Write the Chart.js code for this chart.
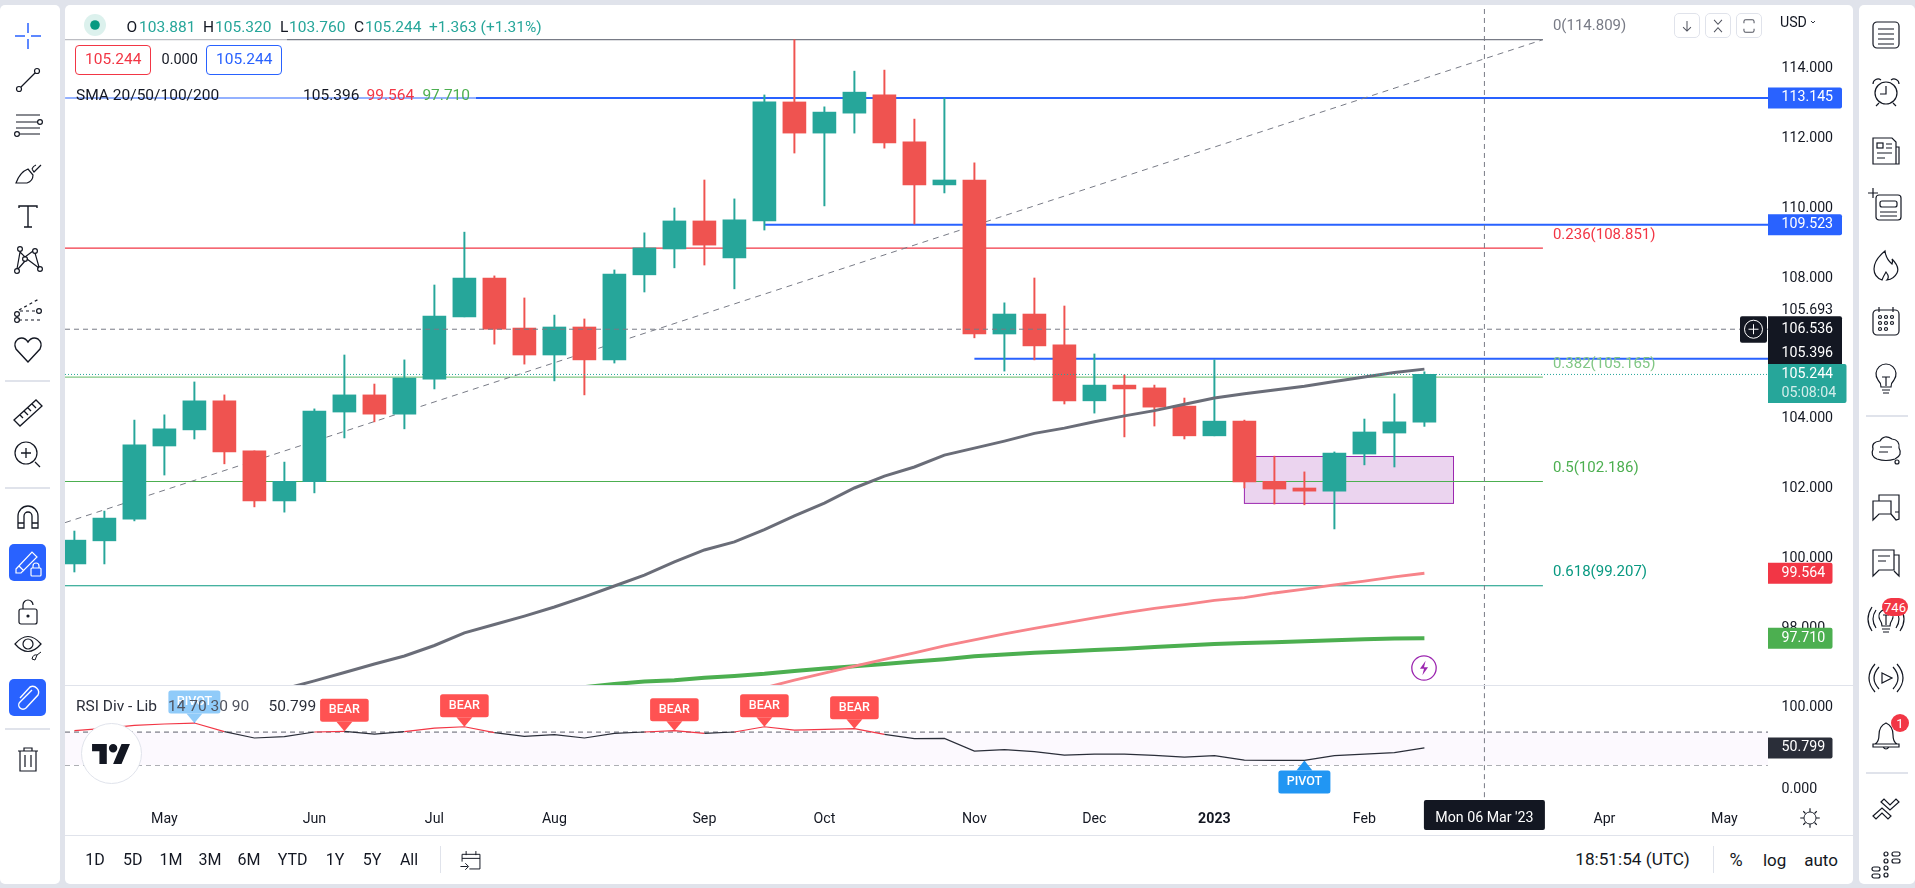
<!DOCTYPE html>
<html>
<head>
<meta charset="utf-8">
<title>DXY daily</title>
<script src="https://cdn.jsdelivr.net/npm/chart.js@4"></script>
<style>
  html, body { margin: 0; padding: 0; background: #E0E3EB; width: 1915px; height: 888px; overflow: hidden; }
  body { position: relative; font-family: Roboto, sans-serif; color: #131722; }
  .panel { position: absolute; background: #fff; border-radius: 5px; }
  .t { position: absolute; white-space: nowrap; font-size: 15.5px; line-height: 1; transform: translateY(-50%); }
  .c { transform: translate(-50%, -50%); }
  .rule { position: absolute; background: #E0E3EB; }
  .veil { position: absolute; background: rgba(255,255,255,0.5); }
  .box { position: absolute; box-sizing: border-box; border-radius: 4px; }
  svg.ic { position: absolute; fill: none; stroke: #131722; stroke-width: 1.2; overflow: visible; }
  canvas { position: absolute; display: block; }
</style>
</head>
<body>
<div class="panel" style="left:0;top:5px;width:60px;height:879px"></div>
<div class="panel" style="left:65px;top:5px;width:1788px;height:879px"></div>
<div class="panel" style="left:1859px;top:5px;width:56px;height:879px"></div>
<canvas id="price-chart" width="1788" height="680" style="left:65px;top:5px"></canvas>
<canvas id="rsi-chart" width="1788" height="150" style="left:65px;top:685px"></canvas>
<div id="overlay"></div>

<script>
// Candles, one per week
const opens = [99.83,100.49,101.11,103.20,103.66,104.49,103.06,101.63,102.18,104.17,104.66,104.11,105.11,106.89,108.00,106.57,105.80,106.60,105.66,108.09,108.83,109.63,108.57,109.63,113.03,112.14,112.71,113.23,111.89,110.66,110.80,106.40,106.97,106.09,104.49,104.94,104.86,104.34,103.49,103.91,102.19,102.00,101.91,102.97,103.57,103.881];
const highs = [100.77,101.34,103.94,104.09,105.03,104.66,103.06,102.74,104.26,105.80,104.97,105.66,107.80,109.31,108.06,107.43,106.94,106.83,108.23,109.29,110.00,110.80,110.26,113.23,114.81,112.89,113.91,113.94,112.54,113.14,111.29,107.29,108.00,107.20,105.83,105.23,104.94,104.57,105.66,103.94,102.91,102.46,103.03,103.97,104.69,105.320];
const lows = [99.60,99.83,101.06,102.37,103.40,102.69,101.46,101.31,101.86,103.43,103.89,103.69,104.83,106.89,106.11,105.54,105.06,104.66,105.57,107.60,108.29,108.37,107.69,109.37,111.57,110.06,112.14,111.71,109.54,110.43,106.29,105.34,105.66,104.40,104.14,103.46,103.77,103.40,103.49,102.00,101.54,101.52,100.83,102.66,102.60,103.760];
const closes = [100.51,101.14,103.23,103.69,104.49,103.03,101.63,102.19,104.20,104.66,104.11,105.14,106.91,108.00,106.54,105.80,106.60,105.66,108.11,108.86,109.63,108.94,109.66,113.03,112.14,112.74,113.31,111.86,110.66,110.80,106.40,106.97,106.06,104.49,104.94,104.83,104.31,103.49,103.91,102.17,101.97,101.91,103.00,103.60,103.89,105.244];

// Moving averages, each starts at the week it enters the pane
const smaDarkStart = 7;
const smaDark = [96.26,96.49,96.73,96.97,97.20,97.50,97.86,98.10,98.34,98.60,98.89,99.20,99.51,99.89,100.23,100.46,100.81,101.20,101.57,102.00,102.34,102.60,102.94,103.14,103.34,103.56,103.71,103.89,104.06,104.21,104.39,104.57,104.69,104.80,104.91,105.04,105.17,105.30,105.396];
const smaRedStart = 23;
const smaRed = [96.29,96.51,96.71,96.91,97.10,97.29,97.49,97.66,97.83,97.99,98.14,98.29,98.43,98.56,98.67,98.79,98.87,99.00,99.11,99.23,99.34,99.46,99.564];
const smaGreenStart = 17;
const smaGreen = [96.31,96.40,96.47,96.51,96.58,96.63,96.69,96.77,96.84,96.91,96.97,97.04,97.11,97.19,97.24,97.29,97.33,97.37,97.41,97.46,97.50,97.54,97.57,97.59,97.62,97.65,97.68,97.70,97.710];

// RSI pane
const rsiValues = [71.7,74.5,78.2,79.8,81.0,70.5,62.8,64.4,70.1,70.9,67.6,70.5,74.9,76.5,69.3,64.8,66.8,62.8,68.4,70.1,71.7,68.4,70.1,76.5,72.5,73.3,74.1,67.2,62.0,62.4,47.0,48.6,46.2,42.1,43.3,43.3,41.7,39.7,41.3,36.0,35.6,35.6,41.3,43.3,45.0,50.799];
const rsiBands = [70, 30];
const bearWeeks = [9, 13, 20, 23, 26];
const pivotHighWeeks = [4];
const pivotLowWeeks = [41];

// Drawings
const fibValues = [114.809, 108.851, 105.165, 102.186, 99.207];
const fibNames = ['0(114.809)', '0.236(108.851)', '0.382(105.165)', '0.5(102.186)', '0.618(99.207)'];
const fibColors = ['#787B86', '#F23645', '#81C784', '#4CAF50', '#089981'];
const fibEndWeek = 48.95;
const trendWeeks = [-0.31, 48.95];
const trendValues = [101.01, 114.809];
const blueValues = [113.145, 109.523, 105.693];
const blueStarts = [-0.31, 23, 30];
const boxWeeks = [39, 45.97];
const boxValues = [102.9, 101.56];
const crossWeek = 47;
const crossValue = 106.536;
const lastValue = 105.244;

// Axes
const priceTicks = [114, 112, 110, 108, 106, 104, 102, 100, 98];
const rsiTicks = [100, 0];
const timeWeeks = [3, 8, 12, 16, 21, 25, 30, 34, 38, 43, 51, 55];
const timeNames = ['May', 'Jun', 'Jul', 'Aug', 'Sep', 'Oct', 'Nov', 'Dec', '2023', 'Feb', 'Apr', 'May'];

const UP = '#26A69A', DOWN = '#EF5350', GRAY = '#787B86', BLUE = '#2962FF', DARK = '#131722';
const FONT = 'Roboto, sans-serif';
const weekMin = -0.313, weekMax = 56.453;
const axisFont = { family: FONT, size: 14.2 };

const xy = (xs, ys) => xs.map((x, i) => ({ x, y: ys[i] }));
const series = (start, vals) => vals.map((y, i) => ({ x: start + i, y }));
const flat = (from, to, y) => [{ x: from, y }, { x: to, y }];
const upright = (x, from, to) => [{ x, y: from }, { x, y: to }];

const lineSet = (data, color, width, order, extra) => Object.assign({
    type: 'line', data, borderColor: color, borderWidth: width,
    pointRadius: 0, tension: 0, fill: false, order
}, extra || {});

// the plot has to fill the canvas edge to edge, so drop the axis label padding
const fitY = s => { s.width = 85; s.paddingTop = 0; s.paddingBottom = 0; };
const fitX = s => { s.height = 35; s.paddingLeft = 0; s.paddingRight = 0; };

function rr(ctx, x0, y0, x1, y1, r, fill) {
    ctx.fillStyle = fill;
    ctx.beginPath();
    ctx.roundRect(x0, y0, x1 - x0, y1 - y0, r);
    ctx.fill();
}

function tagText(ctx, text, x, y, color) {
    ctx.fillStyle = color || '#fff';
    ctx.font = '14.2px ' + FONT;
    ctx.textAlign = 'left';
    ctx.textBaseline = 'middle';
    ctx.fillText(text, x, y);
}

const priceOverlay = {
    id: 'priceOverlay',
    beforeDatasetsDraw(chart) {
        const { ctx, scales: { x, y } } = chart;
        const bx0 = x.getPixelForValue(boxWeeks[0]), bx1 = x.getPixelForValue(boxWeeks[1]);
        const by0 = y.getPixelForValue(boxValues[0]), by1 = y.getPixelForValue(boxValues[1]);
        ctx.save();
        ctx.fillStyle = 'rgba(156,39,176,0.2)';
        ctx.strokeStyle = '#9C27B0';
        ctx.lineWidth = 1;
        ctx.fillRect(bx0, by0, bx1 - bx0, by1 - by0);
        ctx.strokeRect(bx0, by0, bx1 - bx0, by1 - by0);
        ctx.restore();
    },
    afterDraw(chart) {
        const { ctx, chartArea, scales: { x, y } } = chart;
        const right = chartArea.right, textX = right + 13.5, wide = right + 74;
        ctx.save();

        // fib names sit above the end of each level
        ctx.font = '15px ' + FONT;
        ctx.textAlign = 'left';
        ctx.textBaseline = 'middle';
        fibValues.forEach((v, i) => {
            ctx.fillStyle = fibColors[i];
            ctx.fillText(fibNames[i], x.getPixelForValue(fibEndWeek) + 10, y.getPixelForValue(v) - 13);
        });

        blueValues.slice(0, 2).forEach(v => {
            const p = y.getPixelForValue(v);
            rr(ctx, right, p - 10.5, wide, p + 10.5, [0, 2, 2, 0], BLUE);
            tagText(ctx, v.toFixed(3), textX, p);
        });

        // tags that collide get pushed apart, as in the original
        const bluePx = y.getPixelForValue(blueValues[2]);
        tagText(ctx, blueValues[2].toFixed(3), textX, bluePx - 48, DARK);

        const crossPx = y.getPixelForValue(crossValue);
        rr(ctx, right, crossPx - 13, wide, crossPx + 35, [0, 2, 0, 0], DARK);
        tagText(ctx, crossValue.toFixed(3), textX, crossPx);
        tagText(ctx, smaDark[smaDark.length - 1].toFixed(3), textX, crossPx + 24);

        rr(ctx, right - 28, crossPx - 13, right - 1, crossPx + 13.5, 2, DARK);
        ctx.strokeStyle = '#fff';
        ctx.lineWidth = 1;
        ctx.beginPath();
        ctx.arc(right - 14.5, crossPx, 9, 0, Math.PI * 2);
        ctx.moveTo(right - 19.5, crossPx);
        ctx.lineTo(right - 9.5, crossPx);
        ctx.moveTo(right - 14.5, crossPx - 5);
        ctx.lineTo(right - 14.5, crossPx + 5);
        ctx.stroke();

        const lastPx = y.getPixelForValue(lastValue);
        rr(ctx, right, lastPx - 10.5, right + 78.5, lastPx + 28.5, [0, 2, 2, 0], UP);
        tagText(ctx, lastValue.toFixed(3), textX, lastPx);
        tagText(ctx, '05:08:04', textX, lastPx + 18.5, 'rgba(255,255,255,0.8)');

        const redLast = smaRed[smaRed.length - 1], greenLast = smaGreen[smaGreen.length - 1];
        [[redLast, '#F23645'], [greenLast, '#4CAF50']].forEach(([v, c]) => {
            const p = y.getPixelForValue(v);
            rr(ctx, right, p - 10.5, right + 64.5, p + 10.5, [0, 2, 2, 0], c);
            tagText(ctx, v.toFixed(3), textX, p);
        });
        ctx.restore();
    }
};

function drawMarker(ctx, px, tip, name, color, textColor, below) {
    const half = name === 'BEAR' ? 24.3 : 26;
    const near = below ? tip + 10 : tip - 9.5;
    const far = below ? tip + 33 : tip - 32.5;
    ctx.fillStyle = color;
    ctx.beginPath();
    ctx.moveTo(px, tip);
    ctx.lineTo(px - 8, near);
    ctx.lineTo(px + 8, near);
    ctx.closePath();
    ctx.fill();
    rr(ctx, px - half, Math.min(near, far), px + half, Math.max(near, far), 2.5, color);
    ctx.fillStyle = textColor;
    ctx.font = '500 12.5px ' + FONT;
    ctx.textAlign = 'center';
    ctx.textBaseline = 'middle';
    ctx.fillText(name, px, (near + far) / 2);
}

const rsiOverlay = {
    id: 'rsiOverlay',
    afterDraw(chart) {
        const { ctx, chartArea, scales: { x, y } } = chart;
        const right = chartArea.right;
        ctx.save();
        pivotHighWeeks.forEach(w => drawMarker(ctx, x.getPixelForValue(w), y.getPixelForValue(rsiValues[w]), 'PIVOT', '#2196F3', '#fff', false));
        bearWeeks.forEach(w => drawMarker(ctx, x.getPixelForValue(w), y.getPixelForValue(rsiValues[w]), 'BEAR', '#FF5252', '#fff', false));
        pivotLowWeeks.forEach(w => drawMarker(ctx, x.getPixelForValue(w), y.getPixelForValue(rsiValues[w]), 'PIVOT', '#2196F3', '#fff', true));

        const last = rsiValues[rsiValues.length - 1], p = y.getPixelForValue(last);
        rr(ctx, right, p - 10.5, right + 64.5, p + 10.5, [0, 2, 2, 0], '#2A2E39');
        tagText(ctx, last.toFixed(3), right + 13.5, p);

        const cx = x.getPixelForValue(crossWeek);
        rr(ctx, cx - 60.5, chartArea.bottom, cx + 60.5, chartArea.bottom + 30, 2, DARK);
        ctx.fillStyle = '#fff';
        ctx.font = '14.2px ' + FONT;
        ctx.textAlign = 'center';
        ctx.textBaseline = 'middle';
        ctx.fillText("Mon 06 Mar '23", cx, chartArea.bottom + 18);
        ctx.restore();
    }
};

const weeks = closes.map((_, i) => i);
const candleColors = weeks.map(i => closes[i] >= opens[i] ? UP : DOWN);

const priceDatasets = [];
fibValues.forEach((v, i) => priceDatasets.push(lineSet(flat(weekMin, fibEndWeek, v), fibColors[i], 1.2, 10)));
blueValues.forEach((v, i) => priceDatasets.push(lineSet(flat(blueStarts[i], weekMax, v), BLUE, 2, 9)));
priceDatasets.push(lineSet(xy(trendWeeks, trendValues), GRAY, 1, 8, { borderDash: [6, 5] }));
priceDatasets.push({
    type: 'bar', data: weeks.map(i => ({ x: i, y: [lows[i], highs[i]] })),
    backgroundColor: candleColors, barThickness: 1.3, grouped: false, order: 6
});
priceDatasets.push({
    type: 'bar', data: weeks.map(i => ({ x: i, y: [opens[i], closes[i]] })),
    backgroundColor: candleColors, barThickness: 23, grouped: false, order: 5
});
priceDatasets.push(lineSet(series(smaGreenStart, smaGreen), '#4CAF50', 4, 4));
priceDatasets.push(lineSet(series(smaRedStart, smaRed), '#F7848A', 2.8, 3));
priceDatasets.push(lineSet(series(smaDarkStart, smaDark), '#6A6D78', 3, 2));
priceDatasets.push(lineSet(flat(weekMin, weekMax, lastValue), UP, 1, 1, { borderDash: [1, 2] }));
priceDatasets.push(lineSet(flat(weekMin, weekMax, crossValue), GRAY, 1, 1, { borderDash: [5, 4] }));
priceDatasets.push(lineSet(upright(crossWeek, 96, 116), GRAY, 1, 1, { borderDash: [5, 4] }));

new Chart(document.getElementById('price-chart'), {
    type: 'bar',
    data: { datasets: priceDatasets },
    plugins: [priceOverlay],
    options: {
        responsive: false,
        animation: false,
        layout: { padding: 0 },
        plugins: { legend: { display: false }, tooltip: { enabled: false } },
        scales: {
            x: { type: 'linear', min: weekMin, max: weekMax, offset: false, bounds: 'data', display: false, grid: { display: false } },
            y: {
                type: 'linear', position: 'right', min: 96.371, max: 115.8, bounds: 'data',
                grid: { display: false, drawTicks: false }, border: { display: false },
                afterBuildTicks: s => { s.ticks = priceTicks.map(value => ({ value })); },
                afterFit: fitY,
                ticks: { autoSkip: false, padding: 13.5, color: DARK, font: axisFont, callback: v => v.toFixed(3) }
            }
        }
    }
});

new Chart(document.getElementById('rsi-chart'), {
    type: 'line',
    data: {
        datasets: [
            lineSet(flat(weekMin, weekMax, rsiBands[0]), '#5D606B', 1, 5, { borderDash: [5, 4], fill: '+1', backgroundColor: '#FCF9FE' }),
            lineSet(flat(weekMin, weekMax, rsiBands[1]), '#5D606B', 1, 5, { borderDash: [5, 4] }),
            lineSet(series(0, rsiValues), '#2A2E39', 1.2, 2, {
                segment: { borderColor: c => (c.p0.parsed.y + c.p1.parsed.y) / 2 >= 70 ? '#F23645' : '#2A2E39' }
            }),
            lineSet(upright(crossWeek, -20, 130), GRAY, 1, 1, { borderDash: [5, 4] })
        ]
    },
    plugins: [rsiOverlay],
    options: {
        responsive: false,
        animation: false,
        layout: { padding: 0 },
        plugins: { legend: { display: false }, tooltip: { enabled: false } },
        scales: {
            x: {
                type: 'linear', min: weekMin, max: weekMax, bounds: 'data',
                grid: { display: false, drawTicks: false }, border: { display: false },
                afterBuildTicks: s => { s.ticks = timeWeeks.map(value => ({ value })); },
                afterFit: fitX,
                ticks: {
                    autoSkip: false, maxRotation: 0, padding: 11, color: DARK,
                    font: c => c.tick && c.tick.value === 38 ? { family: FONT, size: 14.2, weight: 'bold' } : axisFont,
                    callback: v => timeNames[timeWeeks.indexOf(v)]
                }
            },
            y: {
                type: 'linear', position: 'right', min: -12.5, max: 127.2, bounds: 'data',
                grid: { display: false, drawTicks: false }, border: { display: false },
                afterBuildTicks: s => { s.ticks = rsiTicks.map(value => ({ value })); },
                afterFit: fitY,
                ticks: { autoSkip: false, padding: 13.5, color: DARK, font: axisFont, callback: v => v.toFixed(3) }
            }
        }
    }
});

// Page chrome around the charts
const overlay = document.getElementById('overlay');

function el(cls, style, text) {
    const d = document.createElement('div');
    d.className = cls;
    d.style.cssText = style;
    if (text) d.textContent = text;
    overlay.appendChild(d);
    return d;
}
const text = (x, y, s, color, extra) => el('t', `left:${x}px;top:${y}px;color:${color || DARK};${extra || ''}`, s);
const ctext = (x, y, s, extra) => el('t c', `left:${x}px;top:${y}px;${extra || ''}`, s);
const rule = (x, y, w, h) => el('rule', `left:${x}px;top:${y}px;width:${w}px;height:${h}px`);

function icon(x, y, body, size, style) {
    const s = size || 32;
    overlay.insertAdjacentHTML('beforeend',
        `<svg class="ic" viewBox="0 0 32 32" width="${s}" height="${s}" style="left:${x - s / 2}px;top:${y - s / 2}px;${style || ''}">${body}</svg>`);
}

// pane separators
rule(65, 685, 1788, 1);
rule(65, 835, 1788, 1);

// legend veils: lines fade behind the legend rows
el('veil', 'left:65px;top:38px;width:222px;height:40px');
el('veil', 'left:65px;top:85px;width:411px;height:23px');
el('veil', 'left:72px;top:690px;width:243px;height:32px');

// main legend
overlay.insertAdjacentHTML('beforeend',
    `<svg class="ic" style="left:84px;top:14px;stroke:none" width="22" height="22"><circle cx="11" cy="11" r="11" fill="#089981" fill-opacity="0.14"/><circle cx="11" cy="11" r="4.8" fill="#089981"/></svg>`);
[[126.5, 'O'], [203, 'H'], [280, 'L'], [354, 'C']].forEach(([x, s]) => text(x, 27.7, s));
[[139, '103.881'], [215, '105.320'], [289, '103.760'], [365, '105.244'], [429, '+1.363 (+1.31%)']].forEach(([x, s]) => text(x, 27.7, s, UP));

el('box', 'left:75px;top:45px;width:76px;height:30px;border:1px solid #F23645;background:#fff');
el('box', 'left:206px;top:45px;width:76px;height:30px;border:1px solid #2962FF;background:#fff');
text(85, 60, '105.244', '#F23645');
text(161.5, 60, '0.000', DARK, 'font-size:14.5px');
text(216, 60, '105.244', BLUE);

text(76, 95.7, 'SMA 20/50/100/200');
text(303, 95.7, '105.396');
text(366.5, 95.7, '99.564', '#F23645');
text(422.4, 95.7, '97.710', '#4CAF50');

// RSI legend
text(76, 706.7, 'RSI Div - Lib', '#2A2E39');
text(168, 706.7, '14 70 30 90', '#50535E');
text(268.6, 706.7, '50.799', '#2A2E39');

// logo
el('box', 'left:81px;top:723px;width:61px;height:61px;border-radius:50%;border:1.5px solid #E0E3EB;background:#fff');
overlay.insertAdjacentHTML('beforeend',
    `<svg style="position:absolute;left:92px;top:744px" width="38" height="20" viewBox="0 0 36 19"><path fill="#131722" d="M14 19H7V7H0V0h14zM28 19h-8l8-19h8zM20 0a4 4 0 1 1 0 8 4 4 0 0 1 0-8z"/></svg>`);

// purple flash mark
icon(1424.4, 668.3, '<circle cx="16" cy="16" r="15" stroke="#9C27B0" stroke-width="1.6"/><path d="M18 7l-7 10h5l-2 8 7-10h-5z" fill="#9C27B0" stroke="none"/>', 26);

// top right buttons and currency
[1674, 1705, 1736].forEach(x => el('box', `left:${x}px;top:13px;width:25.5px;height:25px;border:1px solid #E0E3EB;border-radius:5px`));
icon(1686.7, 25.5, '<path d="M16 7v18M9 18l7 7 7-7" stroke="#50535E" stroke-width="1.8"/>', 18);
icon(1717.7, 25.5, '<path d="M9 5l7 8 7-8M9 27l7-8 7 8" stroke="#50535E" stroke-width="1.8"/>', 18);
icon(1748.5, 25.5, '<path d="M7 11V8q0-3 3-3h12q3 0 3 3v3M7 21v3q0 3 3 3h12q3 0 3-3v-3" stroke="#50535E" stroke-width="1.8"/>', 18);
text(1780, 21.7, 'USD', DARK, 'font-size:14.2px');
icon(1813, 22, '<path d="M8 12l8 8 8-8" stroke-width="3.5"/>', 8);

// bottom bar
[[95, '1D'], [132.7, '5D'], [171, '1M'], [210, '3M'], [249, '6M'], [292.7, 'YTD'], [335, '1Y'], [372, '5Y'], [409, 'All']].forEach(([x, s]) => ctext(x, 860, s, 'font-size:16px'));
rule(440, 846, 1, 27);
icon(471, 860, '<path d="M5 18V9h22v18H14M5 14h22M10 5v5M22 5v5M3 24h9M9 20l4 4-4 4"/>', 26);
ctext(1632.5, 860, '18:51:54 (UTC)', 'font-size:17.2px');
rule(1712.6, 846, 1, 27);
ctext(1736, 860, '%', 'font-size:18px');
ctext(1774.6, 860, 'log', 'font-size:17px');
ctext(1821, 860, 'auto', 'font-size:17px');
icon(1809.7, 818, '<circle cx="16" cy="16" r="8"/><path d="M16 3v5M16 24v5M3 16h5M24 16h5M7 7l3 3M22 22l3 3M7 25l3-3M22 10l3-3" stroke-width="1.5"/>', 24);

// left toolbar
const X = 27.8;
icon(X, 36, '<path d="M16 3v10M16 19v10M3 16h10M19 16h10" stroke="#2962FF" stroke-width="1.5"/>');
icon(X, 80, '<circle cx="7" cy="25" r="2.5"/><circle cx="25" cy="7" r="2.5"/><path d="M9 23L23 9"/>');
icon(X, 125, '<path d="M4 6h24M4 13h22M8 25h20M4 19h24"/><circle cx="28" cy="13" r="2.4"/><circle cx="5" cy="25" r="2.4"/>');
icon(X, 172, '<path d="M4 27h11q6-2 6-8l-5-6q-8 3-12 14zM20 13l2 3 7-7M20 13q1-3 4-4"/>');
icon(X, 216, '<path d="M7 8V6h18v2M16 6v21M12 27h8" stroke-width="1.4"/>');
icon(X, 260, '<circle cx="8" cy="5" r="2.4"/><circle cx="23" cy="7" r="2.4"/><circle cx="5" cy="27" r="2.4"/><circle cx="28" cy="25" r="2.4"/><circle cx="13" cy="15" r="2.4"/><path d="M8 8l-3 17M8 8l5 5 8-6M13 17L6 25M15 15l12 9M23 9l4 14"/>');
icon(X, 310, '<circle cx="5" cy="20" r="2.4"/><circle cx="27" cy="17" r="2.4"/><circle cx="5" cy="26" r="2.4"/><path d="M8 17h17M7 26h21M7 16L27 5" stroke-dasharray="3 3"/>');
icon(X, 350, '<path d="M16 28L4 15Q1 9 6 5q6-3 10 3 4-6 10-3 5 4 2 10z" stroke-width="1.4"/>');
rule(5, 380, 45, 1.5);
icon(X, 411.7, '<path d="M2 24L24 4l6 6L8 30zM8 19l3 3M12 15l4 4M16 12l3 3M20 8l4 4" stroke-width="1.3"/>');
icon(X, 455, '<circle cx="14" cy="14" r="11"/><path d="M9 14h10M14 9v10M23 23l5 5" stroke-width="1.3"/>');
rule(5, 487, 45, 2);
icon(X, 516.7, '<path d="M6 27V15a10 10 0 0 1 20 0v12h-6V15a4 4 0 0 0-8 0v12zM6 22h6M20 22h6" stroke-width="1.3"/>');
el('box', 'left:9px;top:544px;width:37px;height:37px;background:#2962FF;border-radius:5px');
icon(X, 562.5, '<path d="M4 22L20 5l5 5L9 26l-5 0zM7 19l5 5" stroke="#fff"/><rect x="19" y="21" width="10" height="8" rx="1" stroke="#fff"/><path d="M21 21v-2a3 3 0 0 1 6 0v2" stroke="#fff"/>');
icon(X, 611.7, '<rect x="7" y="13" width="18" height="15" rx="2"/><path d="M11 13V9a5 5 0 0 1 10 0" /><circle cx="16" cy="20" r="1" fill="#131722"/>');
icon(X, 646.7, '<path d="M3 13Q16-2 29 13 16 28 3 13z"/><circle cx="16" cy="13" r="5"/><path d="M20 28q1-5 5-4l-2 5z M25 24l4-3" stroke-width="1"/>');
el('box', 'left:9px;top:679px;width:37px;height:37px;background:#2962FF;border-radius:5px');
icon(X, 697.5, '<path d="M20 8l-12 12a4 4 0 0 0 6 6l12-13a6 6 0 0 0-8-8L8 16" stroke="#fff" stroke-width="1.4"/>');
rule(5, 728, 45, 1.5);
icon(X, 759, '<path d="M6 8h20M12 8V5h8v3M8 8v20h16V8M13 12v12M19 12v12"/>');

// right toolbar
const R = 1886.4;
icon(R, 35, '<rect x="3" y="3" width="26" height="26" rx="4"/><path d="M8 10h16M8 15h16M8 20h16M8 25h16"/>');
icon(R, 91.7, '<circle cx="16" cy="17" r="11"/><path d="M16 10v8h-6M3 8a5 5 0 0 1 8-4M29 8a5 5 0 0 0-8-4M9 27l-3 3M23 27l3 3"/>');
icon(R, 150.7, '<path d="M3 3h19l4 4v22H3zM26 12h3v17h-3"/><rect x="7" y="8" width="6" height="5"/><path d="M16 9h6M16 13h6M7 18h15M7 23h8"/>');
icon(R, 206.7, '<rect x="6" y="4" width="25" height="25" rx="3"/><rect x="10" y="10" width="17" height="6" rx="2"/><path d="M10 21h17M10 25h17M-2 2h10M3-3V7"/>');
icon(R, 265, '<path d="M15 2q1 8 7 13 1-3 0-5 8 8 5 14-3 6-10 7 3-3-1-8-3 5-4 8-8-3-8-11 0-9 11-18z"/>');
icon(R, 321.7, '<rect x="3" y="4" width="26" height="25" rx="4"/><path d="M9 1v5M23 1v5"/><circle cx="10" cy="11" r="1.5"/><circle cx="16" cy="11" r="1.5"/><circle cx="22" cy="11" r="1.5"/><circle cx="10" cy="17" r="1.5"/><circle cx="16" cy="17" r="1.5"/><circle cx="22" cy="17" r="1.5"/><circle cx="10" cy="23" r="1.5"/><circle cx="16" cy="23" r="1.5"/>');
icon(R, 380, '<path d="M11 23q0-4-3-7a10 10 0 1 1 16 0q-3 3-3 7zM12 26h8M13 29h6M12 13h8M16 13v9"/>');
rule(1866, 415, 42, 1.5);
icon(R, 450, '<path d="M7 25Q0 22 3 15q-2-7 7-8 4-7 12-2 8 1 7 9 4 7-4 11-9 3-18 0zM10 13h12M9 18h9"/><circle cx="27" cy="28" r="2"/>');
icon(R, 506.7, '<path d="M3 10h18v13H9l-6 6zM9 10V4h20v17h-4M21 23l5 6 3-1v-7"/>');
icon(R, 563, '<path d="M3 3h21v20H9l-6 6zM8 9h12M8 14h8M24 8h5v21l-5-5"/>');
icon(R, 620, '<path d="M12 22q0-3-2-6a7 7 0 1 1 12 0q-2 3-2 6zM12 25h8M13 28h6M13 11h6M16 11v10M6 6q-6 9 0 18M2 3q-8 12 0 24M26 6q6 9 0 18M30 3q8 12 0 24"/>');
icon(R, 678, '<path d="M9 5q-10 11 0 22M5 2q-12 14 0 28M23 5q10 11 0 22M27 2q12 14 0 28M12 11l10 5-10 5z"/>');
icon(R, 735, '<path d="M5 25q4-2 4-9 0-9 7-12 7 3 7 12 0 7 4 9zM3 25h26v3H3zM13 28q3 4 6 0"/>');
rule(1866, 772, 42, 2);
icon(R, 808, '<path d="M3 24l9-8 9 8-3 3-6-6-6 6zM11 10l3-3 6 6 6-6 3 3-9 8z"/>');
icon(R, 865, '<rect x="2" y="18" width="8" height="4" rx="2"/><rect x="2" y="25" width="8" height="4" rx="2"/><rect x="22" y="3" width="8" height="4" rx="2"/><rect x="22" y="10" width="8" height="4" rx="2"/><circle cx="16" cy="5" r="2"/><circle cx="16" cy="12" r="2"/><circle cx="16" cy="19" r="2"/><circle cx="16" cy="26" r="2"/>');
el('box', 'left:1882px;top:598px;width:26px;height:18px;border-radius:9px;background:#F23645');
ctext(1895, 607, '746', 'color:#fff;font-size:13px');
el('box', 'left:1891px;top:713.5px;width:18px;height:18px;border-radius:9px;background:#F23645');
ctext(1900, 722.5, '1', 'color:#fff;font-size:13px');
</script>
</body>
</html>
